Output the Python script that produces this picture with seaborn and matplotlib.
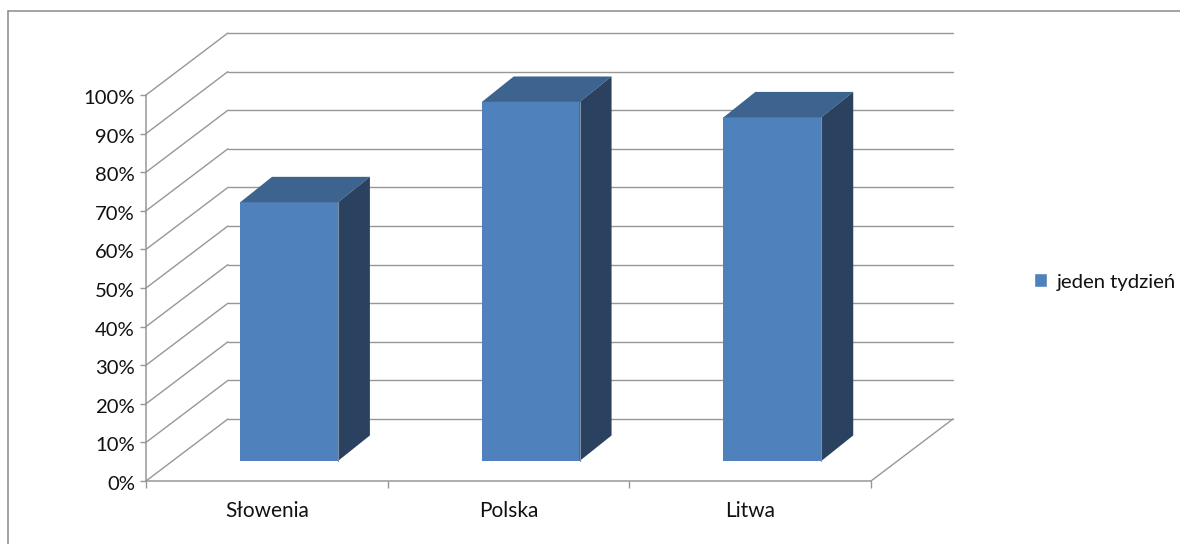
import matplotlib
matplotlib.use("Agg")
import matplotlib.pyplot as plt
from matplotlib.lines import Line2D
from matplotlib.patches import Polygon, Patch
from matplotlib.ticker import FixedLocator, FixedFormatter
from matplotlib.transforms import ScaledTranslation
import pandas as pd
import seaborn as sns

countries = ["Słowenia", "Polska", "Litwa"]
shares = [67, 93, 89]
series_name = "jeden tydzień"
percent_ticks = list(range(0, 101, 10))

W, H = 1180, 544
GRID = "#979797"
FRONT = "#4F81BD"
TOP = "#3D638F"
SIDE = "#2A4260"

sns.set_theme(style="white")
plt.rcParams["font.family"] = ["Lato", "DejaVu Sans"]

fig = plt.figure(figsize=(W / 100, H / 100), dpi=100, facecolor="white")
ax = fig.add_axes([146 / W, (H - 481) / H, 725 / W, 386 / H], facecolor="none")
ax.set_xlim(-0.5, 2.5)
ax.set_ylim(0, 100)

# Oblique projection offsets, in data units
wall_dx, wall_dy = 0.339, 16.06
bar_dx, bar_dy = 0.092, 5.2
depth_dx, depth_dy = 0.132, 6.6

# Back wall grid, side wall diagonals and floor edge
for t in percent_ticks:
    ax.plot([-0.5 + wall_dx, 2.5 + wall_dx], [t + wall_dy] * 2, color=GRID, lw=1, clip_on=False, zorder=1)
    ax.plot([-0.5, -0.5 + wall_dx], [t, t + wall_dy], color=GRID, lw=1, clip_on=False, zorder=1)
ax.plot([2.5, 2.5 + wall_dx], [0, wall_dy], color=GRID, lw=1, clip_on=False, zorder=1)

df = pd.DataFrame({"kraj": countries, "udzial": shares})
sns.barplot(data=df, x="kraj", y="udzial", color=FRONT, saturation=1, width=0.405, ax=ax, zorder=3)
ax.set_xlim(-0.5, 2.5)
ax.set_ylim(0, 100)

# Lift each front face onto the floor and add its top and side faces
for bar in list(ax.patches):
    bar.set_x(bar.get_x() + bar_dx)
    bar.set_y(bar_dy)
    bar.set_clip_on(False)
    bar.set_linewidth(0)
    x0, x1 = bar.get_x(), bar.get_x() + bar.get_width()
    y0, y1 = bar.get_y(), bar.get_y() + bar.get_height()
    ax.add_patch(Polygon([(x0, y1), (x1, y1), (x1 + depth_dx, y1 + depth_dy), (x0 + depth_dx, y1 + depth_dy)],
                         closed=True, facecolor=TOP, edgecolor="none", clip_on=False, zorder=3))
    ax.add_patch(Polygon([(x1, y0), (x1 + depth_dx, y0 + depth_dy), (x1 + depth_dx, y1 + depth_dy), (x1, y1)],
                         closed=True, facecolor=SIDE, edgecolor="none", clip_on=False, zorder=3))
    ax.plot([x1, x1], [y0, y1], color="#7F8FA3", lw=0.8, clip_on=False, zorder=4)

for name in ("top", "right"):
    ax.spines[name].set_visible(False)
for name in ("left", "bottom"):
    ax.spines[name].set_color(GRID)
    ax.spines[name].set_linewidth(1.1)

ax.set_xlabel("")
ax.set_ylabel("")
ax.yaxis.set_major_locator(FixedLocator(percent_ticks))
ax.yaxis.set_major_formatter(FixedFormatter([f"{t}%" for t in percent_ticks]))
ax.tick_params(axis="y", left=True, length=4, width=1, color=GRID, labelsize=14.6, labelcolor="#111111", pad=4)
ax.xaxis.set_major_locator(FixedLocator([0, 1, 2]))
ax.xaxis.set_major_formatter(FixedFormatter(countries))
ax.xaxis.set_minor_locator(FixedLocator([-0.5, 0.5, 1.5, 2.5]))
ax.tick_params(axis="x", which="major", bottom=False, labelsize=15, labelcolor="#111111", pad=8.5)
ax.tick_params(axis="x", which="minor", bottom=True, length=5, width=1, color=GRID)

# Nudge percent labels slightly below their tick marks
label_shift = ScaledTranslation(0, -2 / 100, fig.dpi_scale_trans)
for label in ax.get_yticklabels():
    label.set_transform(label.get_transform() + label_shift)

legend = ax.legend(handles=[Patch(facecolor=FRONT, label=series_name)], loc="center left",
                   bbox_to_anchor=(1018 / W, (H - 282) / H), bbox_transform=fig.transFigure,
                   frameon=False, fontsize=14.6, handlelength=0.62, handleheight=0.68,
                   handletextpad=0.5, borderpad=0.3, labelcolor="#111111")

# Chart area frame
fig.add_artist(Line2D([7.5 / W, 7.5 / W], [0, (H - 11) / H], color="#8A8A8A", lw=1.1))
fig.add_artist(Line2D([7.5 / W, 1], [(H - 11) / H] * 2, color="#8A8A8A", lw=1.1))

fig.savefig("out.png", dpi=100)
